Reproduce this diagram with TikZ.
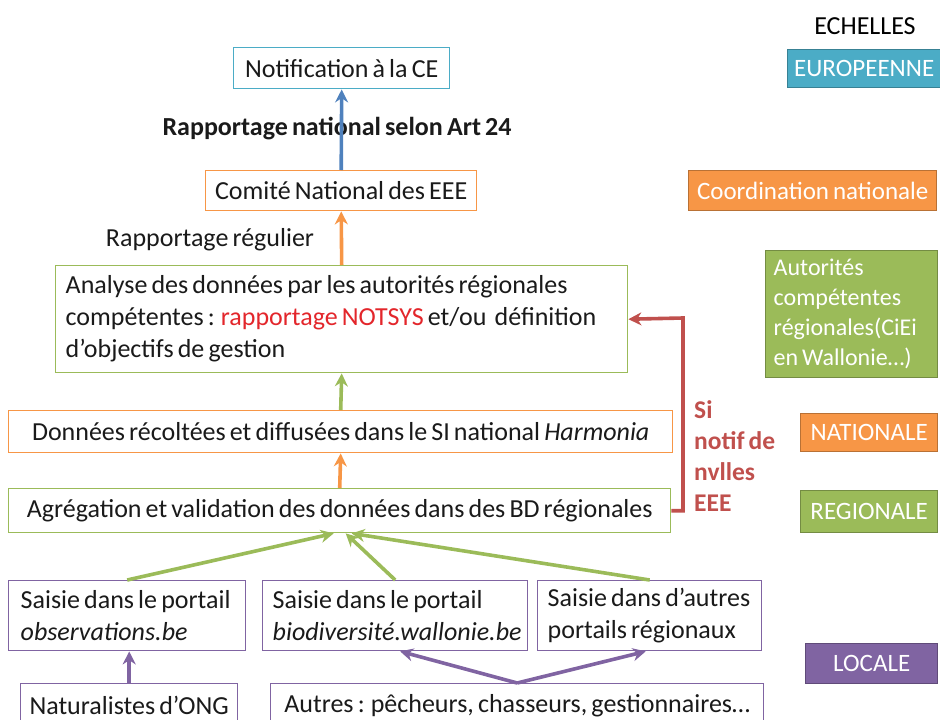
\documentclass[tikz,border=0pt]{standalone}
\usepackage{fontspec}
\setmainfont{Carlito}[WordSpace=0.7]
\usetikzlibrary{arrows.meta}
\definecolor{cblue}{HTML}{4BACC6}
\definecolor{carrowblue}{HTML}{4F81BD}
\definecolor{corange}{HTML}{F79646}
\definecolor{cgreen}{HTML}{9BBB59}
\definecolor{cpurple}{HTML}{8064A2}
\definecolor{cred}{HTML}{C0504D}
\definecolor{cnotsys}{HTML}{E3262B}
\definecolor{ctext}{HTML}{1A1A1A}
\newcommand\mynsp{\spaceskip=0pt \xspaceskip=0pt \hyphenpenalty=10000 \relax}
\begin{document}
\begin{tikzpicture}[x=1pt,y=-1pt,
  box/.style={draw, line width=1.4pt, fill=white, inner sep=0pt, anchor=north west,
    font=\fontsize{26}{32}\selectfont, text=ctext},
  lab/.style={line width=1.4pt, inner sep=0pt, anchor=north west,
    font=\fontsize{25}{30}\selectfont, text=white},
  arr/.style={line width=3.6pt, -{Stealth[length=13pt,width=13pt]}},
  txt/.style={font=\fontsize{26}{31}\selectfont, text=ctext, inner sep=0pt}]
\useasboundingbox (0,0) rectangle (940,720);
% main column
\node[box, draw=cblue, minimum width=216pt, minimum height=41pt] (ce) at (233,47) {Notification à la CE};
\node[box, draw=corange, minimum width=271pt, minimum height=40pt] (com) at (205,170) {Comité National des EEE};
\node[box, draw=cgreen, minimum width=572pt, minimum height=107pt, text width=552pt, align=left, inner xsep=10pt] (ana) at (55,265)
  {\mynsp Analyse des données par les autorités régionales\\compétentes : \textcolor{cnotsys}{rapportage NOTSYS} et/ou~ définition\\d’objectifs de gestion};
\node[box, draw=corange, minimum width=664pt, minimum height=42pt] (don) at (8,410) {Données récoltées et diffusées dans le SI national \textit{Harmonia}};
\node[box, draw=cgreen, minimum width=662pt, minimum height=44pt] (agr) at (8,488) {Agrégation et validation des données dans des BD régionales};
\node[box, draw=cpurple, minimum width=237pt, minimum height=70pt, text width=213pt, align=left, inner xsep=12pt] (obs) at (8,580)
  {\mynsp Saisie dans le portail\\\textit{observations.be}};
\node[box, draw=cpurple, minimum width=265pt, minimum height=70pt, text width=245pt, align=left, inner xsep=10pt] (bio) at (262,580)
  {\mynsp Saisie dans le portail\\\textit{biodiversité.wallonie.be}};
\node[box, draw=cpurple, minimum width=224pt, minimum height=70pt, text width=204pt, align=left, inner xsep=10pt] (aut) at (537,580)
  {\mynsp Saisie dans d’autres\\portails régionaux};
\node[box, draw=cpurple, minimum width=217pt, minimum height=44pt] (nat) at (20,683) {Naturalistes d’ONG};
\node[box, draw=cpurple, minimum width=493pt, minimum height=44pt] (oth) at (270,683) {Autres : pêcheurs, chasseurs, gestionnaires…};
% labels
\node[txt, font=\fontsize{26}{31}\selectfont\bfseries] (rn) at (337,129) {Rapportage national selon Art 24};
\node[txt] (rr) at (210,240) {Rapportage régulier};
\node[txt, anchor=north west, align=left, text=cred, font=\fontsize{25.5}{31}\selectfont\bfseries] (si) at (694,400) {\mynsp Si\\notif de\\nvlles\\EEE};
% scale column
\node[txt, font=\fontsize{26}{30}\selectfont, text=black] (ech) at (865,26) {ECHELLES};
\node[lab, fill=cblue, draw=cblue!75!black, minimum width=153pt, minimum height=38pt] (eu) at (787,49) {EUROPEENNE};
\node[lab, fill=corange, draw=corange!75!black, minimum width=248pt, minimum height=40pt] (cn) at (688,170) {Coordination nationale};
\node[lab, fill=cgreen, draw=cgreen!75!black, minimum width=172pt, minimum height=127pt, text width=156pt, align=left, inner xsep=8pt,
  font=\fontsize{24}{30}\selectfont] (acr) at (765,250)
  {\mynsp Autorités\\compétentes\\régionales(CiEi\\en Wallonie…)};
\node[lab, fill=corange, draw=corange!75!black, minimum width=137pt, minimum height=38pt] (nal) at (800,413) {NATIONALE};
\node[lab, fill=cgreen, draw=cgreen!75!black, minimum width=137pt, minimum height=42pt] (reg) at (800,490) {REGIONALE};
\node[lab, fill=cpurple, draw=cpurple!75!black, minimum width=132pt, minimum height=40pt] (loc) at (805,643) {LOCALE};
% connectors
\draw[arr, carrowblue] (com.north) -- (ce.south);
\draw[arr, corange] (ana.north) -- (com.south);
\draw[arr, cgreen] (don.north) -- (ana.south);
\draw[arr, corange] (agr.north) -- (don.south);
\coordinate (rc) at (683,318);
\draw[arr, cred] (agr.east) -| (rc) -- (ana.east);
\draw[arr, cgreen] (obs.north) -- ([xshift=-6pt]agr.south);
\draw[arr, cgreen] (bio.north) -- ([xshift=6pt]agr.south);
\draw[arr, cgreen] (aut.north) -- ([xshift=12pt]agr.south);
\draw[arr, cpurple] (nat.north) -- (nat.north |- obs.south);
\draw[arr, cpurple] (oth.north) -- ([xshift=5pt]bio.south);
\draw[arr, cpurple] (oth.north) -- ([xshift=-4pt]aut.south);
\end{tikzpicture}
\end{document}
